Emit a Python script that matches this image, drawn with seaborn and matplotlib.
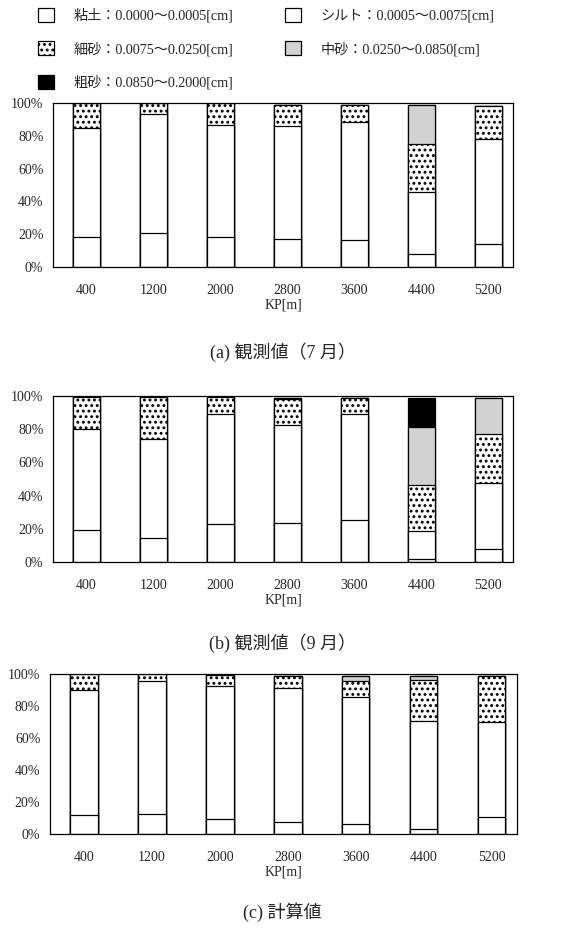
import numpy as np
import matplotlib
matplotlib.use("Agg")
import matplotlib.pyplot as plt
import matplotlib.patches as mpatches
import seaborn as sns

sns.set_style("white")
plt.rcParams['font.family'] = ['Liberation Serif', 'Noto Sans CJK JP', 'DejaVu Sans']
plt.rcParams['hatch.linewidth'] = 1.3

# KP positions
kp = ['400', '1200', '2000', '2800', '3600', '4400', '5200']

# grain size fractions [%] : (a) observed July
clay_a   = [18.0, 20.7, 18.2, 17.0, 16.2, 7.8, 14.3]
silt_a   = [67.0, 72.3, 68.5, 68.7, 72.1, 38.2, 63.6]
fine_a   = [15.0, 7.0, 13.3, 13.3, 10.7, 28.8, 20.1]
medium_a = [0.0, 0.0, 0.0, 0.0, 0.0, 24.2, 0.0]
coarse_a = [0.0, 0.0, 0.0, 0.0, 0.0, 0.0, 0.0]

# (b) observed September
clay_b   = [19.2, 14.5, 22.6, 23.6, 25.0, 1.6, 8.1]
silt_b   = [61.0, 59.6, 66.3, 59.0, 64.0, 17.0, 39.4]
fine_b   = [19.2, 25.3, 10.5, 15.4, 9.9, 27.9, 29.3]
medium_b = [0.6, 0.6, 0.0, 1.0, 0.0, 34.5, 22.2]
coarse_b = [0.0, 0.0, 0.0, 0.0, 0.0, 18.0, 0.0]

# (c) computed
clay_c   = [11.7, 12.3, 9.6, 7.7, 6.3, 3.1, 10.4]
silt_c   = [78.5, 83.3, 82.7, 83.8, 79.1, 67.7, 59.6]
fine_c   = [9.8, 4.4, 7.3, 7.5, 10.0, 25.7, 28.5]
medium_c = [0.0, 0.0, 0.0, 0.0, 3.6, 2.0, 0.0]
coarse_c = [0.0, 0.0, 0.0, 0.0, 0.0, 0.0, 0.0]

labels = ['粘土：0.0000～0.0005[cm]', 'シルト：0.0005～0.0075[cm]',
          '細砂：0.0075～0.0250[cm]', '中砂：0.0250～0.0850[cm]',
          '粗砂：0.0850～0.2000[cm]']
yticks = ['0%', '20%', '40%', '60%', '80%', '100%']
captions = ['(a) 観測値（7 月）', '(b) 観測値（9 月）', '(c) 計算値']

# fill style per class: (facecolor, hatch)
styles = [('white', None), ('white', None), ('white', '...'),
          ('#d2d2d2', None), ('black', None)]

panels = [
    (clay_a, silt_a, fine_a, medium_a, coarse_a),
    (clay_b, silt_b, fine_b, medium_b, coarse_b),
    (clay_c, silt_c, fine_c, medium_c, coarse_c),
]
# axes rectangles in figure fraction
rects = [
    [0.094, 0.7132, 0.814, 0.1762],
    [0.094, 0.3964, 0.814, 0.1783],
    [0.0885, 0.1042, 0.8265, 0.1718],
]
caption_y = [1 - 352 / 931, 1 - 643 / 931, 1 - 912 / 931]

fig = plt.figure(figsize=(5.65, 9.31), dpi=100)

for layers, rect, cy, cap in zip(panels, rects, caption_y, captions):
    ax = fig.add_axes(rect)
    cum = np.cumsum(np.array(layers), axis=0)
    # draw from the top layer down so each lower layer covers the one above
    for i in range(len(layers) - 1, -1, -1):
        fc, hatch = styles[i]
        sns.barplot(x=kp, y=cum[i], color=fc, saturation=1, width=0.4,
                    edgecolor='black', linewidth=0.9, hatch=hatch, ax=ax)
    ax.set_xlim(-0.5, 6.37)
    ax.set_ylim(0, 100)
    ax.set_yticks([0, 20, 40, 60, 80, 100])
    ax.set_yticklabels(yticks)
    ax.tick_params(axis='both', length=0, labelsize=10)
    ax.tick_params(axis='x', pad=12)
    ax.tick_params(axis='y', pad=7)
    ax.set_xlabel('KP[m]', fontsize=10, labelpad=1)
    ax.set_ylabel('')
    for s in ax.spines.values():
        s.set_visible(True)
        s.set_color('black')
        s.set_linewidth(0.9)
    fig.text(0.5, cy, cap, ha='center', va='center', fontsize=13)

handles = []
for fc, hatch in styles:
    handles.append(mpatches.Patch(facecolor=fc, edgecolor='black',
                                  hatch=hatch, linewidth=0.9))
order = [0, 2, 4, 1, 3]
fig.legend([handles[i] for i in order], [labels[i] for i in order],
           ncol=2, loc='upper left', bbox_to_anchor=(0.045, 1.005),
           frameon=False, fontsize=10.2, handlelength=1.15, handleheight=1.15,
           handletextpad=1.35, labelspacing=1.3, columnspacing=3.65)

fig.savefig('out.png', dpi=100)
